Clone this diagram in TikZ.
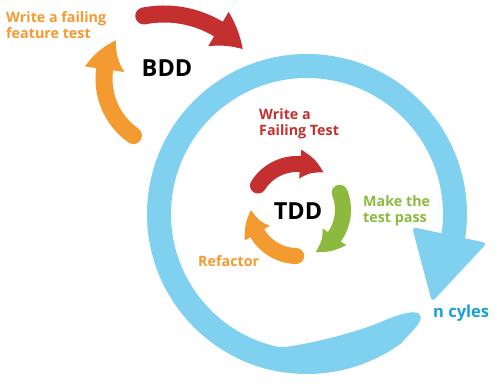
\documentclass[tikz,border=0pt]{standalone}
\usepackage{fontspec}
\setmainfont{Open Sans}
\usetikzlibrary{arrows.meta,bending}
\definecolor{ringblue}{HTML}{80D0EF}
\definecolor{cycleblue}{HTML}{1A9FDC}
\definecolor{stepred}{HTML}{C4302F}
\definecolor{steporange}{HTML}{F39A30}
\definecolor{stepgreen}{HTML}{8BBA3E}
\tikzset{
  bddarc/.style={line width=17pt, line cap=round,
    -{Triangle[length=32pt,width=40pt,line width=0pt,bend]}},
  tddarc/.style={line width=16pt, line cap=round,
    -{Triangle[length=25pt,width=29pt,line width=0pt,bend]}},
  steptext/.style={font=\fontsize{14.3}{16}\selectfont\bfseries, align=left, inner sep=0pt},
  cyclename/.style={font=\fontsize{23.5}{28}\selectfont\bfseries, inner sep=0pt},
}
\begin{document}
\begin{tikzpicture}[x=1pt,y=1pt]
\useasboundingbox (0,0) rectangle (497,387);
\coordinate (C) at (307,173);
\coordinate (B) at (164,267);
\coordinate (Bo) at (173,308);
\coordinate (T) at (297,177);

% n cycles ring
\draw[ringblue, line width=24pt] (C) ++(262:148) arc[start angle=262, end angle=-10, radius=148];
\fill[ringblue, rounded corners=4pt] (412,160) -- (487,144) -- (432,85) -- cycle;
\fill[ringblue] (C) ++(244:160) arc[start angle=244, end angle=306, radius=160]
  .. controls (412,56) and (424,66) .. (420,72)
  .. controls (416,78) and (400,73) .. (383,66)
  .. controls (360,56) and (320,45) .. (285,40)
  -- ++(-20,0) -- cycle;

% BDD loop
\draw[bddarc, stepred] (B) ++(101:106) arc[start angle=101, end angle=42, radius=106];
\draw[bddarc, steporange] (Bo) ++(235:69) arc[start angle=235, end angle=146, radius=69];

% TDD loop
\draw[tddarc, stepred] (T) ++(148:46) arc[start angle=148, end angle=55, radius=46];
\draw[tddarc, stepgreen] (T) ++(22:46) arc[start angle=22, end angle=-66, radius=46];
\draw[tddarc, steporange] (T) ++(-91:46) arc[start angle=-91, end angle=-180, radius=46];

% texts
\node[steptext, text=steporange, anchor=north west] (bddwrite) at (6,375.5) {Write a failing\\feature test};
\node[cyclename] (bdd) at (167,319) {BDD};
\node[steptext, text=stepred, anchor=north west] (tddwrite) at (259,279) {Write a\\Failing Test};
\node[steptext, text=stepgreen, anchor=north west] (tddpass) at (363,191.5) {Make the\\test pass};
\node[steptext, text=steporange, anchor=base west] (refactor) at (198,120) {Refactor};
\node[cyclename] (tdd) at (298,176) {TDD};
\node[steptext, font=\fontsize{16.5}{18}\selectfont\bfseries, text=cycleblue, anchor=base west] (ncycles) at (433,69) {n cyles};
\end{tikzpicture}
\end{document}
